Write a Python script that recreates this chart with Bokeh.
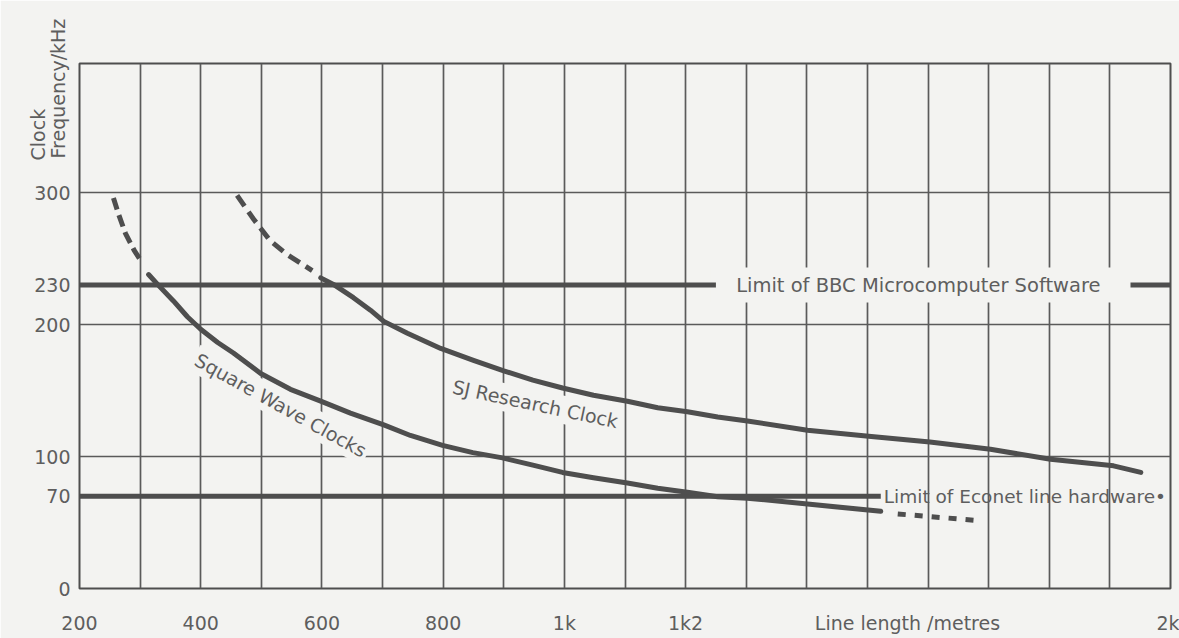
from bokeh.plotting import figure
from bokeh.models import FixedTicker, Label
from bokeh.embed import file_html
from bokeh.resources import INLINE

# ---------------- data ----------------
x_ticks = [200, 400, 600, 800, 1000, 1200, 1566, 2000]
x_tick_labels = ["200", "400", "600", "800", "1k", "1k2", "Line length /metres", "2k"]
x_grid = list(range(300, 2000, 100))
y_ticks = [0, 70, 100, 200, 230, 300]
y_tick_labels = ["0", "70", "100", "200", "230", "300"]
y_grid = [100, 200, 300]

# Square wave clocks (dashed start, solid body, dashed extension)
sq_dash_x = [256, 265, 276, 290, 304]
sq_dash_y = [296, 283, 269, 256.5, 246.5]
sq_x = [314, 330, 355, 378, 400, 428, 454, 499, 548, 598, 647, 702, 746, 799, 849,
        898, 948, 997, 1048, 1104, 1154, 1203, 1253, 1302, 1401, 1522]
sq_y = [238, 230, 218, 206, 196.5, 186.5, 178.5, 163, 151, 142, 133, 124, 116, 108.5, 103,
        99, 93.5, 88, 84, 80, 76, 73, 69.5, 68.5, 64, 58.5]
sq_ext_x = [1550, 1683]
sq_ext_y = [56.5, 51.5]

# SJ Research clock
sj_dash_x = [460, 488, 515, 543, 584]
sj_dash_y = [298, 279.5, 263.5, 253, 241]
sj_x = [598, 619, 652, 680, 702, 741, 796, 850, 900, 948, 997, 1048, 1104, 1154, 1203,
        1253, 1302, 1401, 1502, 1603, 1703, 1802, 1906, 1951]
sj_y = [235.5, 230.5, 220.5, 211, 202.5, 193.5, 182, 173, 165, 158, 152, 146.5, 142, 137,
        134, 130, 127, 120, 115.5, 111, 105.5, 98, 93, 88]

# limit lines
bbc_limit = 230
bbc_xs = [[200, 1250], [1934, 2000]]
econet_limit = 70
econet_x = [200, 1522]

# ---------------- style ----------------
PAPER = "#f3f3f1"
INK = "#4e4e4e"
GRID = "#5a5a5a"
TEXT = "#5e5e5e"
FONT = "DejaVu Sans"

p = figure(width=1179, height=638, x_range=(200, 2000), y_range=(0, 398),
           output_backend="svg", toolbar_location=None,
           min_border_left=79, min_border_right=9, min_border_top=63,
           min_border_bottom=50,
           background_fill_color=PAPER, border_fill_color=PAPER,
           outline_line_color=INK, outline_line_width=2)
p.title.visible = False

# axes
p.xaxis.ticker = FixedTicker(ticks=x_ticks)
p.xaxis.major_label_overrides = {t: s for t, s in zip(x_ticks, x_tick_labels)}
p.yaxis.ticker = FixedTicker(ticks=y_ticks)
p.yaxis.major_label_overrides = {t: s for t, s in zip(y_ticks, y_tick_labels)}
for ax in (p.xaxis, p.yaxis):
    ax.axis_line_color = None
    ax.major_tick_line_color = None
    ax.minor_tick_line_color = None
    ax.major_tick_out = 0
    ax.major_tick_in = 0
    ax.major_label_text_font = FONT
    ax.major_label_text_font_size = "19px"
    ax.major_label_text_color = TEXT
p.xaxis.major_label_standoff = 23
p.yaxis.major_label_standoff = 9

# grids
p.xgrid.ticker = FixedTicker(ticks=x_grid)
p.ygrid.ticker = FixedTicker(ticks=y_grid)
for g in (p.xgrid, p.ygrid):
    g.grid_line_color = GRID
    g.grid_line_width = 1.7
    g.grid_line_alpha = 1.0

# limit lines
p.multi_line(xs=bbc_xs, ys=[[bbc_limit] * 2 for _ in bbc_xs], line_color=INK, line_width=5)
p.line(econet_x, [econet_limit] * len(econet_x), line_color=INK, line_width=5)

# curves
p.line(sq_dash_x, sq_dash_y, line_color=INK, line_width=5, line_dash="12 6")
p.line(sq_x, sq_y, line_color=INK, line_width=5, line_cap="round", line_join="round")
p.line(sq_ext_x, sq_ext_y, line_color=INK, line_width=5, line_dash="8 9")
p.line(sj_dash_x, sj_dash_y, line_color=INK, line_width=5, line_dash="13 7")
p.line(sj_x, sj_y, line_color=INK, line_width=5, line_cap="round", line_join="round")

# text annotations
def lab(place="center", **kw):
    base = dict(text_font=FONT, text_font_size="19px", text_color=TEXT)
    base.update(kw)
    p.add_layout(Label(**base), place)

lab(x=1584, y=bbc_limit, text="Limit of BBC Microcomputer Software",
    text_align="center", text_baseline="middle", text_font_size="19.5px",
    background_fill_color=PAPER, padding=dict(left=26, right=26, top=6, bottom=6),
    level="underlay")
lab(x=1527, y=econet_limit, text="Limit of Econet line hardware\u2022",
    text_align="left", text_baseline="middle", text_font_size="18.5px")
lab(x=532, y=139, text="Square Wave Clocks", angle=-29, angle_units="deg",
    text_align="center", text_baseline="middle",
    background_fill_color=PAPER, padding=3, level="underlay")
lab(x=952, y=140, text="SJ Research Clock", angle=-12, angle_units="deg",
    text_align="center", text_baseline="middle",
    background_fill_color=PAPER, padding=3, level="underlay")
# y-axis title: drawn outside the frame, so placed in side panels (not clipped)
lab("above", x=131, y=324.5, text="Clock", angle=90, angle_units="deg",
    text_align="left", text_baseline="middle")
lab("left", x=165, y=326, text="Frequency/kHz", angle=90, angle_units="deg",
    text_align="left", text_baseline="middle")

open("out.html", "w").write(file_html(p, INLINE))
